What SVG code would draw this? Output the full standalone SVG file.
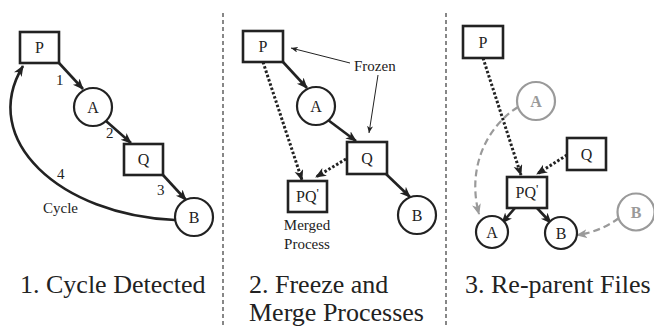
<svg xmlns="http://www.w3.org/2000/svg" width="654" height="326" viewBox="0 0 654 326" font-family="Liberation Serif, Times New Roman, serif">
<style>
  .box { fill: #fff; stroke: #222; stroke-width: 2.6; }
  .circ { fill: #fff; stroke: #222; stroke-width: 2.2; }
  .gcirc { fill: #fff; stroke: #9a9a9a; stroke-width: 2.2; }
  .lbl { font-size: 16px; fill: #222; text-anchor: middle; }
  .glbl { font-size: 16px; font-weight: bold; fill: #9a9a9a; text-anchor: middle; }
  .small { font-size: 15px; fill: #222; }
  .cap { font-size: 26px; fill: #222; }
  .solid { fill: none; stroke: #222; stroke-width: 2.6; marker-end: url(#ah); }
  .dot { fill: none; stroke: #222; stroke-width: 3; stroke-dasharray: 2.5 2; marker-end: url(#ah); }
  .thin { fill: none; stroke: #222; stroke-width: 1; marker-end: url(#ahs); }
  .gdash { fill: none; stroke: #9a9a9a; stroke-width: 2.2; stroke-dasharray: 7 4; marker-end: url(#ahg); }
  .div { stroke: #555; stroke-width: 1.4; stroke-dasharray: 4 3; }
</style>
<defs>
  <marker id="ah" markerUnits="userSpaceOnUse" markerWidth="12" markerHeight="10" refX="10" refY="4.5" orient="auto">
    <path d="M0,0 L11,4.5 L0,9 L3,4.5 z" fill="#222"/>
  </marker>
  <marker id="ahs" markerUnits="userSpaceOnUse" markerWidth="8" markerHeight="6" refX="7" refY="3" orient="auto">
    <path d="M0,0 L7,3 L0,6 L2,3 z" fill="#222"/>
  </marker>
  <marker id="ahg" markerUnits="userSpaceOnUse" markerWidth="12" markerHeight="10" refX="10" refY="4.5" orient="auto">
    <path d="M0,0 L11,4.5 L0,9 L3,4.5 z" fill="#9a9a9a"/>
  </marker>
</defs>

<!-- dividers -->
<line class="div" x1="223" y1="13" x2="223" y2="326"/>
<line class="div" x1="446" y1="13" x2="446" y2="326"/>

<g id="connectors">
  <!-- panel 1 -->
  <line class="solid" x1="59" y1="63" x2="83" y2="89"/>
  <line class="solid" x1="106" y1="121" x2="131" y2="143"/>
  <line class="solid" x1="163" y1="175" x2="186" y2="200"/>
  <path class="solid" d="M175,220 C60,215 -22,140 23,66"/>
  <!-- panel 2 -->
  <line class="solid" x1="283" y1="62" x2="307" y2="88"/>
  <line class="solid" x1="328" y1="120" x2="356" y2="141"/>
  <line class="solid" x1="386" y1="174" x2="410" y2="197"/>
  <line class="dot" x1="263" y1="62" x2="302" y2="180"/>
  <line class="dot" x1="346" y1="159" x2="316" y2="177"/>
  <line class="thin" x1="350" y1="63" x2="291" y2="48"/>
  <line class="thin" x1="378" y1="75" x2="369" y2="133"/>
  <!-- panel 3 -->
  <line class="dot" x1="483" y1="58" x2="521" y2="175"/>
  <line class="dot" x1="567" y1="155" x2="537" y2="174"/>
  <line class="solid" x1="515" y1="208" x2="502" y2="223"/>
  <line class="solid" x1="537" y1="208" x2="551" y2="223"/>
  <path class="gdash" d="M518,107 C485,128 467,170 479,214"/>
  <path class="gdash" d="M619,218 Q600,232 577,235"/>
</g>

<!-- panel 1 nodes -->
<g id="p1-P"><rect class="box" x="20" y="32" width="39" height="31"/><text class="lbl" x="39.5" y="53">P</text></g>
<g id="p1-A"><circle class="circ" cx="93" cy="107" r="19"/><text class="lbl" x="93" y="112.5">A</text></g>
<g id="p1-Q"><rect class="box" x="124" y="144" width="39" height="31"/><text class="lbl" x="143.5" y="165">Q</text></g>
<g id="p1-B"><circle class="circ" cx="194" cy="217" r="19"/><text class="lbl" x="194" y="222.5">B</text></g>
<g id="p1-labels">
  <text class="small" x="56" y="85">1</text>
  <text class="small" x="106" y="138">2</text>
  <text class="small" x="157" y="195">3</text>
  <text class="small" x="57" y="179">4</text>
  <text class="small" x="43" y="213">Cycle</text>
</g>

<!-- panel 2 nodes -->
<g id="p2-P"><rect class="box" x="243" y="31" width="40" height="31"/><text class="lbl" x="263" y="52">P</text></g>
<g id="p2-A"><circle class="circ" cx="316" cy="106" r="19"/><text class="lbl" x="316" y="111.5">A</text></g>
<g id="p2-Q"><rect class="box" x="347" y="142" width="40" height="32"/><text class="lbl" x="367" y="163.5">Q</text></g>
<g id="p2-B"><circle class="circ" cx="417" cy="215" r="19"/><text class="lbl" x="417" y="220.5">B</text></g>
<g id="p2-PQ"><rect class="box" x="288" y="181" width="39" height="31"/><text class="lbl" x="307.5" y="202">PQ<tspan font-size="13" dy="-5">'</tspan></text></g>
<g id="p2-labels">
  <text class="small" x="354" y="71">Frozen</text>
  <text class="small" x="307" y="230" text-anchor="middle">Merged</text>
  <text class="small" x="307" y="249" text-anchor="middle">Process</text>
</g>

<!-- panel 3 nodes -->
<g id="p3-P"><rect class="box" x="463" y="26" width="40" height="32"/><text class="lbl" x="483" y="47.5">P</text></g>
<g id="p3-Aold"><circle class="gcirc" cx="536" cy="101" r="19"/><text class="glbl" x="536" y="106.5">A</text></g>
<g id="p3-Q"><rect class="box" x="567" y="138" width="39" height="32"/><text class="lbl" x="586.5" y="159.5">Q</text></g>
<g id="p3-PQ"><rect class="box" x="507" y="177" width="40" height="31"/><text class="lbl" x="527" y="198">PQ<tspan font-size="13" dy="-5">'</tspan></text></g>
<g id="p3-A"><circle class="circ" cx="492" cy="232" r="16"/><text class="lbl" x="492" y="237.5">A</text></g>
<g id="p3-B"><circle class="circ" cx="561" cy="233" r="16"/><text class="lbl" x="561" y="238.5">B</text></g>
<g id="p3-Bold"><circle class="gcirc" cx="636" cy="212" r="18.5"/><text class="glbl" x="636" y="217.5">B</text></g>

<!-- captions -->
<g id="captions">
  <text class="cap" x="20" y="293">1. Cycle Detected</text>
  <text class="cap" x="249" y="293">2. Freeze and</text>
  <text class="cap" x="249" y="321">Merge Processes</text>
  <text class="cap" x="465" y="293">3. Re-parent Files</text>
</g>
</svg>
